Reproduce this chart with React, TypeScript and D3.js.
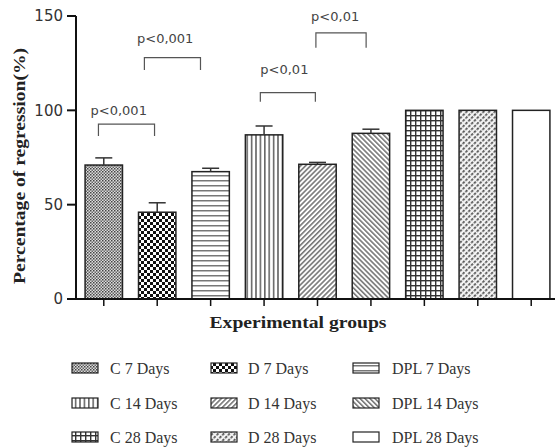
import React from "react";
import * as d3 from "d3";

const groups = ["C 7 Days", "D 7 Days", "DPL 7 Days", "C 14 Days", "D 14 Days", "DPL 14 Days", "C 28 Days", "D 28 Days", "DPL 28 Days"];
const means = [71, 46, 67.5, 87, 71.4, 87.8, 100, 100, 100];
const errors = [3.8, 5, 1.8, 4.7, 1, 2.2, 0, 0, 0];
const patternIds = ["pC7", "pD7", "pDPL7", "pC14", "pD14", "pDPL14", "pC28", "pD28", "none"];
const yTicks = [0, 50, 100, 150];

// brackets: positions in group units (0 = first group centre), heights in data units
const bracketFrom = [-0.1, 0.76, 2.93, 3.97];
const bracketTo = [0.95, 1.81, 3.96, 4.91];
const bracketTop = [92.7, 127.9, 109.4, 141.1];
const bracketBottom = [86.4, 121.4, 104.6, 133.2];
const bracketLabels = ["p<0,001", "p<0,001", "p<0,01", "p<0,01"];
const labelPos = [0.28, 1.15, 3.38, 4.33];
const labelY = [97.5, 135.9, 119.5, 147.3];

const W = 555;
const H = 448;

export default function App() {
  const x = d3.scaleBand<string>().domain(groups).range([76, 559]).paddingInner(0.3).paddingOuter(0.17);
  const y = d3.scaleLinear().domain([0, 150]).range([299, 16]);
  const c0 = (x(groups[0]) as number) + x.bandwidth() / 2;
  const gx = d3.scaleLinear().domain([0, 1]).range([c0, c0 + x.step()]);

  const sans = "DejaVu Sans, Verdana, sans-serif";
  const serif = "Liberation Serif, Times New Roman, serif";

  const legendSwX = [72, 211, 353];
  const legendTxX = [110, 248, 392];
  const legendRowY = [363, 398, 432];

  return (
    <svg width={W} height={H} style={{ position: "absolute", left: 0, top: 0 }}>
      <defs>
        <pattern id="pC7" width="3" height="3" patternUnits="userSpaceOnUse">
          <rect width="3" height="3" fill="#ddd" />
          <rect width="1.5" height="1.5" fill="#444" />
          <rect x="1.5" y="1.5" width="1.5" height="1.5" fill="#666" />
        </pattern>
        <pattern id="pD7" width="6" height="6" patternUnits="userSpaceOnUse">
          <rect width="6" height="6" fill="#fff" />
          <rect width="3" height="3" fill="#111" />
          <rect x="3" y="3" width="3" height="3" fill="#111" />
        </pattern>
        <pattern id="pDPL7" width="5" height="5" patternUnits="userSpaceOnUse">
          <rect width="5" height="5" fill="#fff" />
          <rect y="0" width="5" height="1.5" fill="#777" />
        </pattern>
        <pattern id="pC14" width="4.4" height="4.4" patternUnits="userSpaceOnUse">
          <rect width="4.4" height="4.4" fill="#fff" />
          <rect x="0" width="1.6" height="4.4" fill="#666" />
        </pattern>
        <pattern id="pD14" width="3.5" height="3.5" patternUnits="userSpaceOnUse" patternTransform="rotate(45)">
          <rect width="3.5" height="3.5" fill="#fff" />
          <rect width="1.6" height="3.5" fill="#777" />
        </pattern>
        <pattern id="pDPL14" width="3.5" height="3.5" patternUnits="userSpaceOnUse" patternTransform="rotate(-45)">
          <rect width="3.5" height="3.5" fill="#fff" />
          <rect width="1.6" height="3.5" fill="#777" />
        </pattern>
        <pattern id="pC28" width="5" height="5" patternUnits="userSpaceOnUse">
          <rect width="5" height="5" fill="#fff" />
          <rect width="5" height="1.4" fill="#333" />
          <rect width="1.4" height="5" fill="#333" />
        </pattern>
        <pattern id="pD28" width="4" height="4" patternUnits="userSpaceOnUse" patternTransform="rotate(45)">
          <rect width="4" height="4" fill="#f4f4f4" />
          <rect width="1.8" height="2.6" fill="#555" />
        </pattern>
      </defs>

      {/* bars */}
      {groups.map((g, i) => (
        <rect
          key={g}
          x={x(g)}
          y={y(means[i])}
          width={x.bandwidth()}
          height={y(0) - y(means[i])}
          fill={patternIds[i] === "none" ? "#fff" : `url(#${patternIds[i]})`}
          stroke="#222"
          strokeWidth={1.5}
        />
      ))}

      {/* error bars */}
      {groups.map((g, i) =>
        errors[i] > 0 ? (
          <g key={"e" + g} stroke="#333" strokeWidth={1.5}>
            <line x1={(x(g) as number) + x.bandwidth() / 2} x2={(x(g) as number) + x.bandwidth() / 2} y1={y(means[i])} y2={y(means[i] + errors[i])} />
            <line x1={(x(g) as number) + x.bandwidth() / 2 - 8.5} x2={(x(g) as number) + x.bandwidth() / 2 + 8.5} y1={y(means[i] + errors[i])} y2={y(means[i] + errors[i])} />
          </g>
        ) : null
      )}

      {/* axes */}
      <line x1={76} x2={76} y1={y(150)} y2={y(0)} stroke="#111" strokeWidth={2} />
      <line x1={67} x2={W} y1={y(0)} y2={y(0)} stroke="#111" strokeWidth={2} />
      {yTicks.map((t) => (
        <g key={t}>
          <line x1={67} x2={76} y1={y(t)} y2={y(t)} stroke="#111" strokeWidth={2} />
          <text x={63} y={y(t)} dy="0.36em" textAnchor="end" fontFamily={sans} fontSize={15} fill="#333">
            {t}
          </text>
        </g>
      ))}
      {groups.map((g) => (
        <line key={"t" + g} x1={(x(g) as number) + x.bandwidth() / 2} x2={(x(g) as number) + x.bandwidth() / 2} y1={y(0)} y2={y(0) + 7} stroke="#111" strokeWidth={1.5} />
      ))}

      {/* brackets */}
      {bracketLabels.map((lab, i) => (
        <g key={"b" + i}>
          <path
            d={`M${gx(bracketFrom[i])},${y(bracketBottom[i])}V${y(bracketTop[i])}H${gx(bracketTo[i])}V${y(bracketBottom[i])}`}
            fill="none"
            stroke="#555"
            strokeWidth={1.2}
          />
          <text x={gx(labelPos[i])} y={y(labelY[i])} textAnchor="middle" fontFamily={sans} fontSize={13} fill="#444">
            {lab}
          </text>
        </g>
      ))}

      {/* axis titles */}
      <text
        transform={`translate(25,166) rotate(-90)`}
        textAnchor="middle"
        fontFamily={serif}
        fontWeight="bold"
        fontSize={17}
        fill="#222"
        textLength={236}
        lengthAdjust="spacingAndGlyphs"
      >
        Percentage of regression(%)
      </text>
      <text x={298} y={328} textAnchor="middle" fontFamily={serif} fontWeight="bold" fontSize={17} fill="#222" textLength={177} lengthAdjust="spacingAndGlyphs">
        Experimental groups
      </text>

      {/* legend */}
      {groups.map((g, i) => {
        const col = i % 3;
        const row = Math.floor(i / 3);
        return (
          <g key={"l" + g}>
            <rect
              x={legendSwX[col]}
              y={legendRowY[row]}
              width={26}
              height={10}
              fill={patternIds[i] === "none" ? "#fff" : `url(#${patternIds[i]})`}
              stroke="#222"
              strokeWidth={1.2}
            />
            <text x={legendTxX[col]} y={legendRowY[row] + 11} fontFamily={serif} fontSize={16} fill="#333">
              {g}
            </text>
          </g>
        );
      })}
    </svg>
  );
}
